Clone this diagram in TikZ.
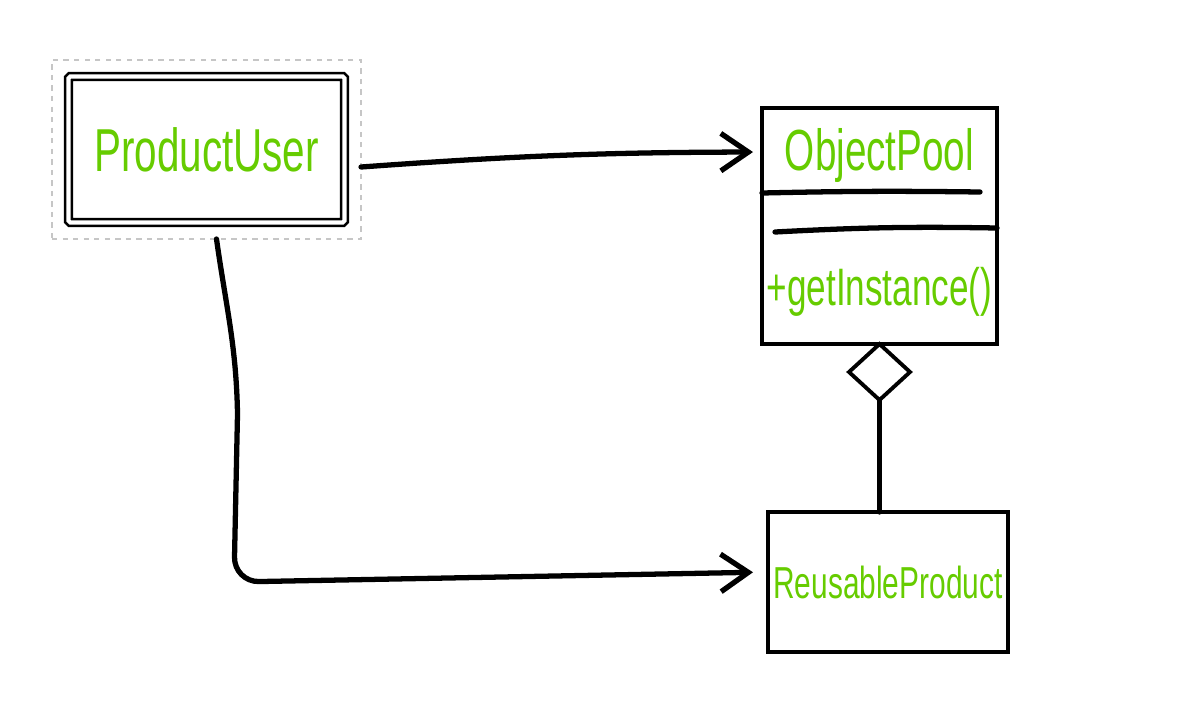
\documentclass[tikz,border=0pt]{standalone}
\usepackage{graphicx}
\usepackage{fontspec}
\setmainfont{Liberation Sans}
\usetikzlibrary{arrows.meta,shapes.geometric,positioning,fit}
\definecolor{handgreen}{RGB}{102,204,0}
\newcommand{\tall}[1]{\scalebox{1}[1.5]{#1}}

\begin{document}
\begin{tikzpicture}[
  box/.style={rectangle, draw, line width=2.8pt, outer sep=0pt, inner sep=0pt},
  userbox/.style={rectangle, draw, double, line width=1.5pt, double distance=2.3pt, rounded corners=1pt, outer sep=0pt, minimum width=5.52cm, minimum height=2.92cm},
  selbox/.style={rectangle, draw=gray!45, dashed, line width=0.6pt, inner sep=0.33cm, outer sep=0pt},
  hand/.style={text=handgreen, inner sep=0pt},
  conn/.style={line width=3pt, line cap=round},
  arrow/.style={conn, -{Straight Barb[length=0.55cm, width=0.75cm, line width=3pt]}}
]
\useasboundingbox (0,0) rectangle (23.9,-14.54);

% user of the pool
\node[userbox, text=handgreen, font=\fontsize{23}{24}\selectfont] (user) at (4.13,-2.99) {\tall{ProductUser}};
\node[selbox, fit=(user)] (sel) {};

% pool class
\node[box, minimum width=4.7cm, minimum height=4.72cm] (pool) at (17.59,-4.52) {};
\node[hand, font=\fontsize{22}{23}\selectfont] (poolname) at ([yshift=-0.94cm]pool.north) {\tall{ObjectPool}};
\node[hand, font=\fontsize{20}{21}\selectfont] (getinst) at ([yshift=1.04cm]pool.south) {\tall{+getInstance()}};
\draw[conn] ([yshift=-1.7cm]pool.north west) to[bend left=1] ([shift={(-0.34cm,-1.68cm)}]pool.north east);
\draw[conn] ([shift={(0.26cm,-2.48cm)}]pool.north west) to[bend left=2] ([yshift=-2.4cm]pool.north east);

% aggregation
\node[diamond, draw, line width=2.2pt, minimum width=1.22cm, minimum height=1.12cm, inner sep=0pt, outer sep=0pt, anchor=north] (agg) at (pool.south) {};

% product
\node[box, minimum width=4.8cm, minimum height=2.8cm, text=handgreen, font=\fontsize{17}{18}\selectfont] (product) at (17.76,-11.64) {\tall{ReusableProduct}};

\draw[conn] (agg.south) -- (agg.south |- product.north);
\draw[arrow, shorten >=0.18cm] ([yshift=-0.35cm]sel.east) to[bend left=2] ([yshift=1.48cm]pool.west);
\draw[arrow, shorten >=0.3cm] ([xshift=0.2cm]sel.south) to[out=-82,in=91] ([xshift=0.62cm,yshift=-3.5cm]sel.south) [rounded corners=0.5cm] -- ([xshift=0.55cm]sel.south |- product.west) -- ([yshift=0.2cm]product.west);

\end{tikzpicture}
\end{document}
